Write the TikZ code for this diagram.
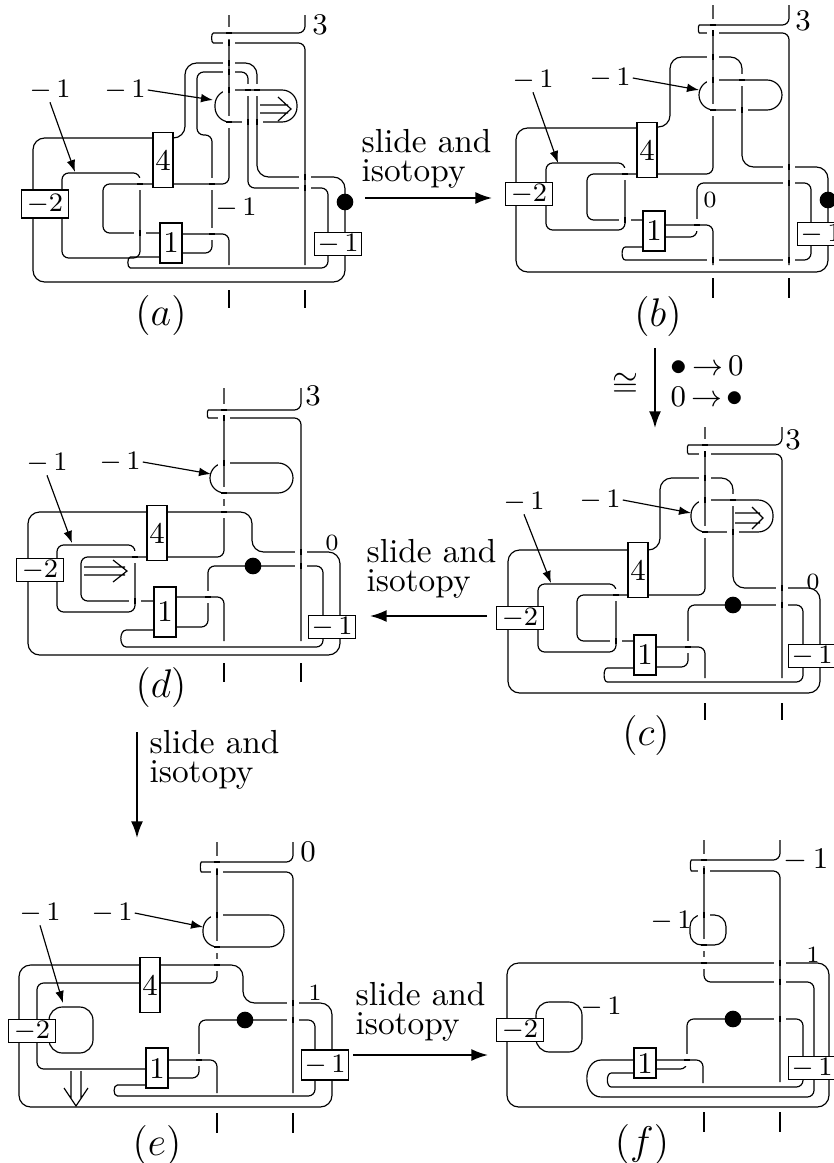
\documentclass[tikz,border=0pt]{standalone}
\usepackage{amsmath}
\usetikzlibrary{arrows.meta}
\tikzset{
  strand/.style={line width=0.35pt, rounded corners=2pt},
  bigloop/.style={line width=0.35pt, rounded corners=3.5pt},
  cutwhite/.style={draw=white, line width=1.6pt},
  twist/.style={draw, fill=white, line width=0.35pt, inner sep=0pt, font=\small},
  box4/.style={twist, minimum width=6pt, minimum height=16.5pt},
  box1/.style={twist, minimum width=6.6pt, minimum height=12pt},
  boxm/.style={twist, minimum width=14pt, minimum height=7pt, font=\footnotesize},
  handledot/.style={circle, fill, inner sep=0pt, minimum size=5pt},
  framing/.style={font=\footnotesize, inner sep=0.5pt},
  pointer/.style={line width=0.35pt, -{Latex[length=3.6pt,width=2.6pt]}},
  slidearrow/.style={line width=0.55pt, -{Latex[length=5pt,width=3.6pt]}},
  slidetext/.style={anchor=north west, inner sep=0pt, align=left, font=\fontsize{10pt}{8.6pt}\selectfont},
  hint/.style={line width=0.35pt},
  paneltag/.style={font=\large, inner sep=1pt}
}
% horizontal strand under a vertical one
\newcommand{\cuth}[1]{\foreach \x/\y in {#1}{
  \draw[cutwhite] (\x-6,\y) -- (\x+6,\y);
  \draw[line width=0.35pt] (\x,\y-2.67) -- (\x,\y+2.67);}}
% vertical strand under a horizontal one
\newcommand{\cutv}[1]{\foreach \x/\y in {#1}{
  \draw[cutwhite] (\x,\y-6) -- (\x,\y+6);
  \draw[line width=0.35pt] (\x-2.67,\y) -- (\x+2.67,\y);}}
\begin{document}
\begin{tikzpicture}[x=0.3pt, y=-0.3pt]
\useasboundingbox (0,0) rectangle (833,1163);

% (a)
\draw[strand] (229,15) -- (229,184) -- (173,184);
\draw[strand] (153,184) -- (103,184) -- (103,233) -- (160,233);
\draw[strand] (182,234) -- (229,234) -- (229,265);
\draw[strand] (305,15) -- (305,33) -- (220,33) .. controls (211,33) and (211,43) .. (220,43) -- (305,43) -- (305,265);
\draw[bigloop] (173,138) -- (185,138) -- (185,63) -- (257,63) -- (257,177) -- (345,177) -- (345,282) -- (33,282) -- (33,138) -- (153,138);
\draw[strand] (182,253) -- (212,253) -- (212,135) -- (197,135) -- (197,72) -- (248,72) -- (248,188) -- (328,188) -- (328,233);
\draw[strand] (328,250) -- (328,268) -- (137,268) .. controls (127,268) and (127,257) .. (137,257) -- (160,257);
\draw[strand] (62,190) -- (62,173) -- (140,173) -- (140,258) -- (62,258) -- (62,218);
\draw[strand, rounded corners=4.5pt] (215,90) rectangle (297,122);
\draw[strand] (229,290) -- (229,308) (305,290) -- (305,308);
\cutv{229/33, 229/122, 140/184, 212/234, 212/184, 257/90, 248/90}
\cuth{229/43, 229/63, 229/72, 229/90, 305/177, 305/188, 257/122, 248/122, 140/233}
\draw[hint] (260,105) -- (288,105) (260,113) -- (288,113) (278,97) -- (291,109) -- (278,121);
\node[box4] (a4) at (163,160) {4};
\node[box1] (a1) at (171,243) {1};
\node[boxm, minimum height=8.4pt] (am2) at (45,204) {$-2$};
\node[boxm] (am1) at (338,244) {$-\,1$};
\node[handledot] (adot) at (345,202) {};
\node[framing] (al1) at (50,90) {$-\,1$};
\node[framing] (al2) at (125,90) {$-\,1$};
\node[framing] (al3) at (236,208) {$-\,1$};
\node[font=\small, inner sep=1pt] (al4) at (320,25) {3};
\coordinate (aa1) at (75,172);
\coordinate (aa2) at (213,100);
\draw[pointer] (al1.south) -- (aa1);
\draw[pointer] (al2.east) -- (aa2);
\node[paneltag] (capa) at (161,315) {$(a)$};

% (a) to (b)
\node[slidetext] (ab) at (361,129) {slide and\\isotopy};
\coordinate (abs) at (365,198);
\coordinate (abe) at (492,198);
\draw[slidearrow] (abs) -- (abe);

% (b)
\draw[strand] (713,5) -- (713,174) -- (657,174);
\draw[strand] (637,174) -- (587,174) -- (587,220) -- (643,220);
\draw[strand] (665,225) -- (713,225) -- (713,265);
\draw[strand] (789,5) -- (789,25) -- (706,25) .. controls (698,25) and (698,33) .. (706,33) -- (789,33) -- (789,265);
\draw[bigloop] (657,127) -- (670,127) -- (670,57) -- (742,57) -- (742,167) -- (828,167) -- (828,272) -- (516,272) -- (516,128) -- (637,128);
\draw[strand] (665,237) -- (697,237) -- (697,183) -- (811,183) -- (811,223);
\draw[strand] (811,240) -- (811,260) -- (632,260) .. controls (621,260) and (621,247) .. (632,247) -- (643,247);
\draw[strand] (546,183) -- (546,163) -- (625,163) -- (625,230) -- (546,230) -- (546,205);
\draw[strand, rounded corners=4.5pt] (699,80) rectangle (782,110);
\draw[strand] (713,278) -- (713,298) (789,278) -- (789,298);
\cutv{713/25, 713/110, 742/80, 625/174, 697/225}
\cuth{713/33, 713/57, 713/80, 789/167, 789/183, 742/110, 625/220, 713/260, 789/260}
\node[box4] (b4) at (647,150) {4};
\node[box1] (b1) at (654,231) {1};
\node[boxm] (bm2) at (529,194) {$-2$};
\node[boxm] (bm1) at (821,234) {$-\,1$};
\node[handledot] (bdot) at (828,200) {};
\node[framing] (bl1) at (533,80) {$-\,1$};
\node[framing] (bl2) at (610,78) {$-\,1$};
\node[font=\scriptsize, inner sep=1pt] (bl3) at (710,200) {0};
\node[font=\small, inner sep=1pt] (bl4) at (803,21) {3};
\coordinate (ba1) at (558,163);
\coordinate (ba2) at (699,90);
\draw[pointer] (bl1.south) -- (ba1);
\draw[pointer] (bl2.east) -- (ba2);
\node[paneltag] (capb) at (658,316) {$(b)$};

% (b) to (c)
\coordinate (bcs) at (655,348);
\coordinate (bce) at (655,428);
\draw[slidearrow] (bcs) -- (bce);
\node[inner sep=0pt] (bccong) at (625,385) {$\cong$};
\node[anchor=north west, inner sep=0pt, align=left, font=\fontsize{9pt}{9.3pt}\selectfont] (bcr) at (670,355)
  {{\normalsize$\bullet$}\,$\rightarrow$\,0\\0\,$\rightarrow$\,{\normalsize$\bullet$}};

% (c)
\draw[strand] (705,427) -- (705,595) -- (648,595);
\draw[strand] (628,595) -- (577,595) -- (577,641) -- (634,641);
\draw[strand] (656,647) -- (705,647) -- (705,678);
\draw[strand] (782,427) -- (782,445) -- (695,445) .. controls (687,445) and (687,454) .. (695,454) -- (782,454) -- (782,678);
\draw[bigloop] (648,550) -- (660,550) -- (660,478) -- (733,478) -- (733,588) -- (820,588) -- (820,693) -- (508,693) -- (508,550) -- (628,550);
\draw[strand] (656,667) -- (688,667) -- (688,605) -- (803,605) -- (803,645);
\draw[strand] (803,662) -- (803,682) -- (614,682) .. controls (603,682) and (603,668) .. (614,668) -- (634,668);
\draw[strand] (538,608) -- (538,584) -- (616,584) -- (616,652) -- (538,652) -- (538,629);
\draw[strand, rounded corners=4.5pt] (691,500) rectangle (773,532);
\draw[strand] (705,703) -- (705,720) (782,703) -- (782,720);
\cutv{705/445, 705/532, 733/500, 616/595, 688/647}
\cuth{705/454, 705/478, 705/500, 782/588, 782/605, 733/532, 616/641}
\draw[hint] (735,513) -- (760,513) (735,523) -- (760,523) (752,507) -- (763,518) -- (752,529);
\node[box4] (c4) at (638,570) {4};
\node[box1] (c1) at (645,655) {1};
\node[boxm] (cm2) at (520,618) {$-2$};
\node[boxm] (cm1) at (812,656) {$-\,1$};
\node[handledot] (cdot) at (733,605) {};
\node[framing] (cl1) at (524,502) {$-\,1$};
\node[framing] (cl2) at (600,500) {$-\,1$};
\node[font=\scriptsize, inner sep=1pt] (cl3) at (813,582) {0};
\node[font=\small, inner sep=1pt] (cl4) at (793,440) {3};
\coordinate (ca1) at (551,583);
\coordinate (ca2) at (691,513);
\draw[pointer] (cl1.south) -- (ca1);
\draw[pointer] (cl2.east) -- (ca2);
\node[paneltag] (capc) at (646,735) {$(c)$};

% (c) to (d)
\node[slidetext] (cd) at (366,539) {slide and\\isotopy};
\coordinate (cds) at (487,616);
\coordinate (cde) at (370,616);
\draw[slidearrow] (cds) -- (cde);

% (d)
\draw[strand] (224,388) -- (224,557) -- (168,557);
\draw[strand] (147,557) -- (81,557) -- (81,601) -- (154,601);
\draw[strand] (176,597) -- (224,597) -- (224,641);
\draw[strand] (301,388) -- (301,410) -- (215,410) .. controls (207,410) and (207,418) .. (215,418) -- (301,418) -- (301,641);
\draw[bigloop] (168,512) -- (252,512) -- (252,552) -- (340,552) -- (340,655) -- (28,655) -- (28,512) -- (147,512);
\draw[strand] (176,627) -- (208,627) -- (208,566) -- (323,566) -- (323,616);
\draw[strand] (323,634) -- (323,647) -- (133,647) .. controls (119,647) and (119,630) .. (133,630) -- (154,630);
\draw[strand] (57,558) -- (57,545) -- (135,545) -- (135,612) -- (57,612) -- (57,581);
\draw[strand, rounded corners=4.5pt] (210,463) rectangle (293,493);
\draw[strand] (224,663) -- (224,682) (301,663) -- (301,682);
\cutv{224/410, 224/493, 224/512, 135/557, 208/597}
\cuth{224/418, 224/463, 301/552, 301/566, 135/601}
\draw[hint] (84,567) -- (125,567) (84,575) -- (125,575) (113,560) -- (127,571) -- (113,582);
\node[box4] (d4) at (157,533) {4};
\node[box1, minimum height=15pt] (d1) at (165,612) {1};
\node[boxm] (dm2) at (40,570) {$-2$};
\node[boxm] (dm1) at (332,627) {$-\,1$};
\node[handledot] (ddot) at (253,566) {};
\node[framing] (dl1) at (47,463) {$-\,1$};
\node[framing] (dl2) at (120,462) {$-\,1$};
\node[font=\scriptsize, inner sep=1pt] (dl3) at (332,543) {0};
\node[font=\small, inner sep=1pt] (dl4) at (313,396) {3};
\coordinate (da1) at (72,543);
\coordinate (da2) at (211,474);
\draw[pointer] (dl1.south) -- (da1);
\draw[pointer] (dl2.east) -- (da2);
\node[paneltag] (capd) at (161,687) {$(d)$};

% (d) to (e)
\coordinate (des) at (137,732);
\coordinate (dee) at (137,838);
\draw[slidearrow] (des) -- (dee);
\node[slidetext] (de) at (149,730) {slide and\\isotopy};

% (e)
\draw[strand] (217,842) -- (217,983) -- (160,983);
\draw[strand] (139,983) -- (37,983) -- (37,1069) -- (146,1069);
\draw[strand] (167,1060) -- (217,1060) -- (217,1093);
\draw[strand] (293,842) -- (293,862) -- (208,862) .. controls (200,862) and (200,872) .. (208,872) -- (293,872) -- (293,1093);
\draw[bigloop] (160,965) -- (243,965) -- (243,1003) -- (332,1003) -- (332,1107) -- (19,1107) -- (19,965) -- (139,965);
\draw[strand] (167,1078) -- (199,1078) -- (199,1020) -- (315,1020) -- (315,1050);
\draw[strand] (315,1075) -- (315,1096) -- (124,1096) .. controls (113,1096) and (113,1085) .. (124,1085) -- (146,1085);
\draw[strand, rounded corners=4pt] (49,1007) rectangle (93,1053);
\draw[strand, rounded corners=4.5pt] (203,915) rectangle (284,947);
\draw[strand] (217,1113) -- (217,1133) (293,1113) -- (293,1133);
\cutv{217/862, 217/947, 217/965, 199/1060}
\cuth{217/872, 217/915, 293/1003, 293/1020}
\draw[hint] (71,1071) -- (71,1098) (81,1071) -- (81,1098) (64,1088) -- (76,1106) -- (88,1088);
\node[box4] (e4) at (150,985) {4};
\node[box1] (e1) at (157,1068) {1};
\node[boxm] (em2) at (32,1031) {$-2$};
\node[boxm, minimum height=9pt] (em1) at (325,1065) {$-\,1$};
\node[handledot] (edot) at (245,1020) {};
\node[framing] (el1) at (40,913) {$-\,1$};
\node[framing] (el2) at (112,913) {$-\,1$};
\node[font=\scriptsize, inner sep=1pt] (el3) at (315,993) {1};
\node[font=\small, inner sep=1pt] (el4) at (308,852) {0};
\coordinate (ea1) at (63,1003);
\coordinate (ea2) at (203,927);
\draw[pointer] (el1.south) -- (ea1);
\draw[pointer] (el2.east) -- (ea2);
\node[paneltag] (cape) at (157,1145) {$(e)$};

% (e) to (f)
\node[slidetext] (ef) at (355,982) {slide and\\isotopy};
\coordinate (efs) at (353,1055);
\coordinate (efe) at (488,1055);
\draw[slidearrow] (efs) -- (efe);

% (f)
\draw[strand] (704,840) -- (704,982) -- (814,982) -- (814,1097) -- (608,1097) .. controls (582,1097) and (582,1060) .. (608,1060) -- (634,1060);
\draw[strand] (655,1060) -- (703,1060) -- (703,1083);
\draw[strand] (780,840) -- (780,860) -- (698,860) .. controls (690,860) and (690,871) .. (698,871) -- (780,871) -- (780,1082);
\draw[bigloop] (507,963) rectangle (829,1107);
\draw[strand] (655,1069) -- (687,1069) -- (687,1019) -- (803,1019) -- (803,1057);
\draw[strand] (803,1075) -- (803,1087) -- (618,1087) .. controls (606,1087) and (606,1073) .. (618,1073) -- (634,1073);
\draw[strand, rounded corners=4pt] (536,1002) rectangle (582,1052);
\draw[strand, rounded corners=3.5pt] (690,915) rectangle (726,945);
\draw[strand] (704,1112) -- (704,1132) (780,1112) -- (780,1132);
\cutv{704/860, 704/945, 704/963, 687/1060}
\cuth{704/871, 704/915, 780/963, 780/982, 780/1019}
\node[box1, minimum height=9pt] (f1) at (645,1063) {1};
\node[boxm] (fm2) at (520,1030) {$-2$};
\node[boxm] (fm1) at (812,1068) {$-\,1$};
\node[handledot] (fdot) at (733,1019) {};
\node[framing] (fl1) at (671,921) {$-\,1$};
\node[framing] (fl2) at (601,1007) {$-\,1$};
\node[font=\scriptsize, inner sep=1pt] (fl3) at (813,955) {1};
\node[font=\small, inner sep=1pt] (fl4) at (806,860) {$-\,1$};
\node[paneltag] (capf) at (642,1144) {$(f)$};
\end{tikzpicture}
\end{document}
